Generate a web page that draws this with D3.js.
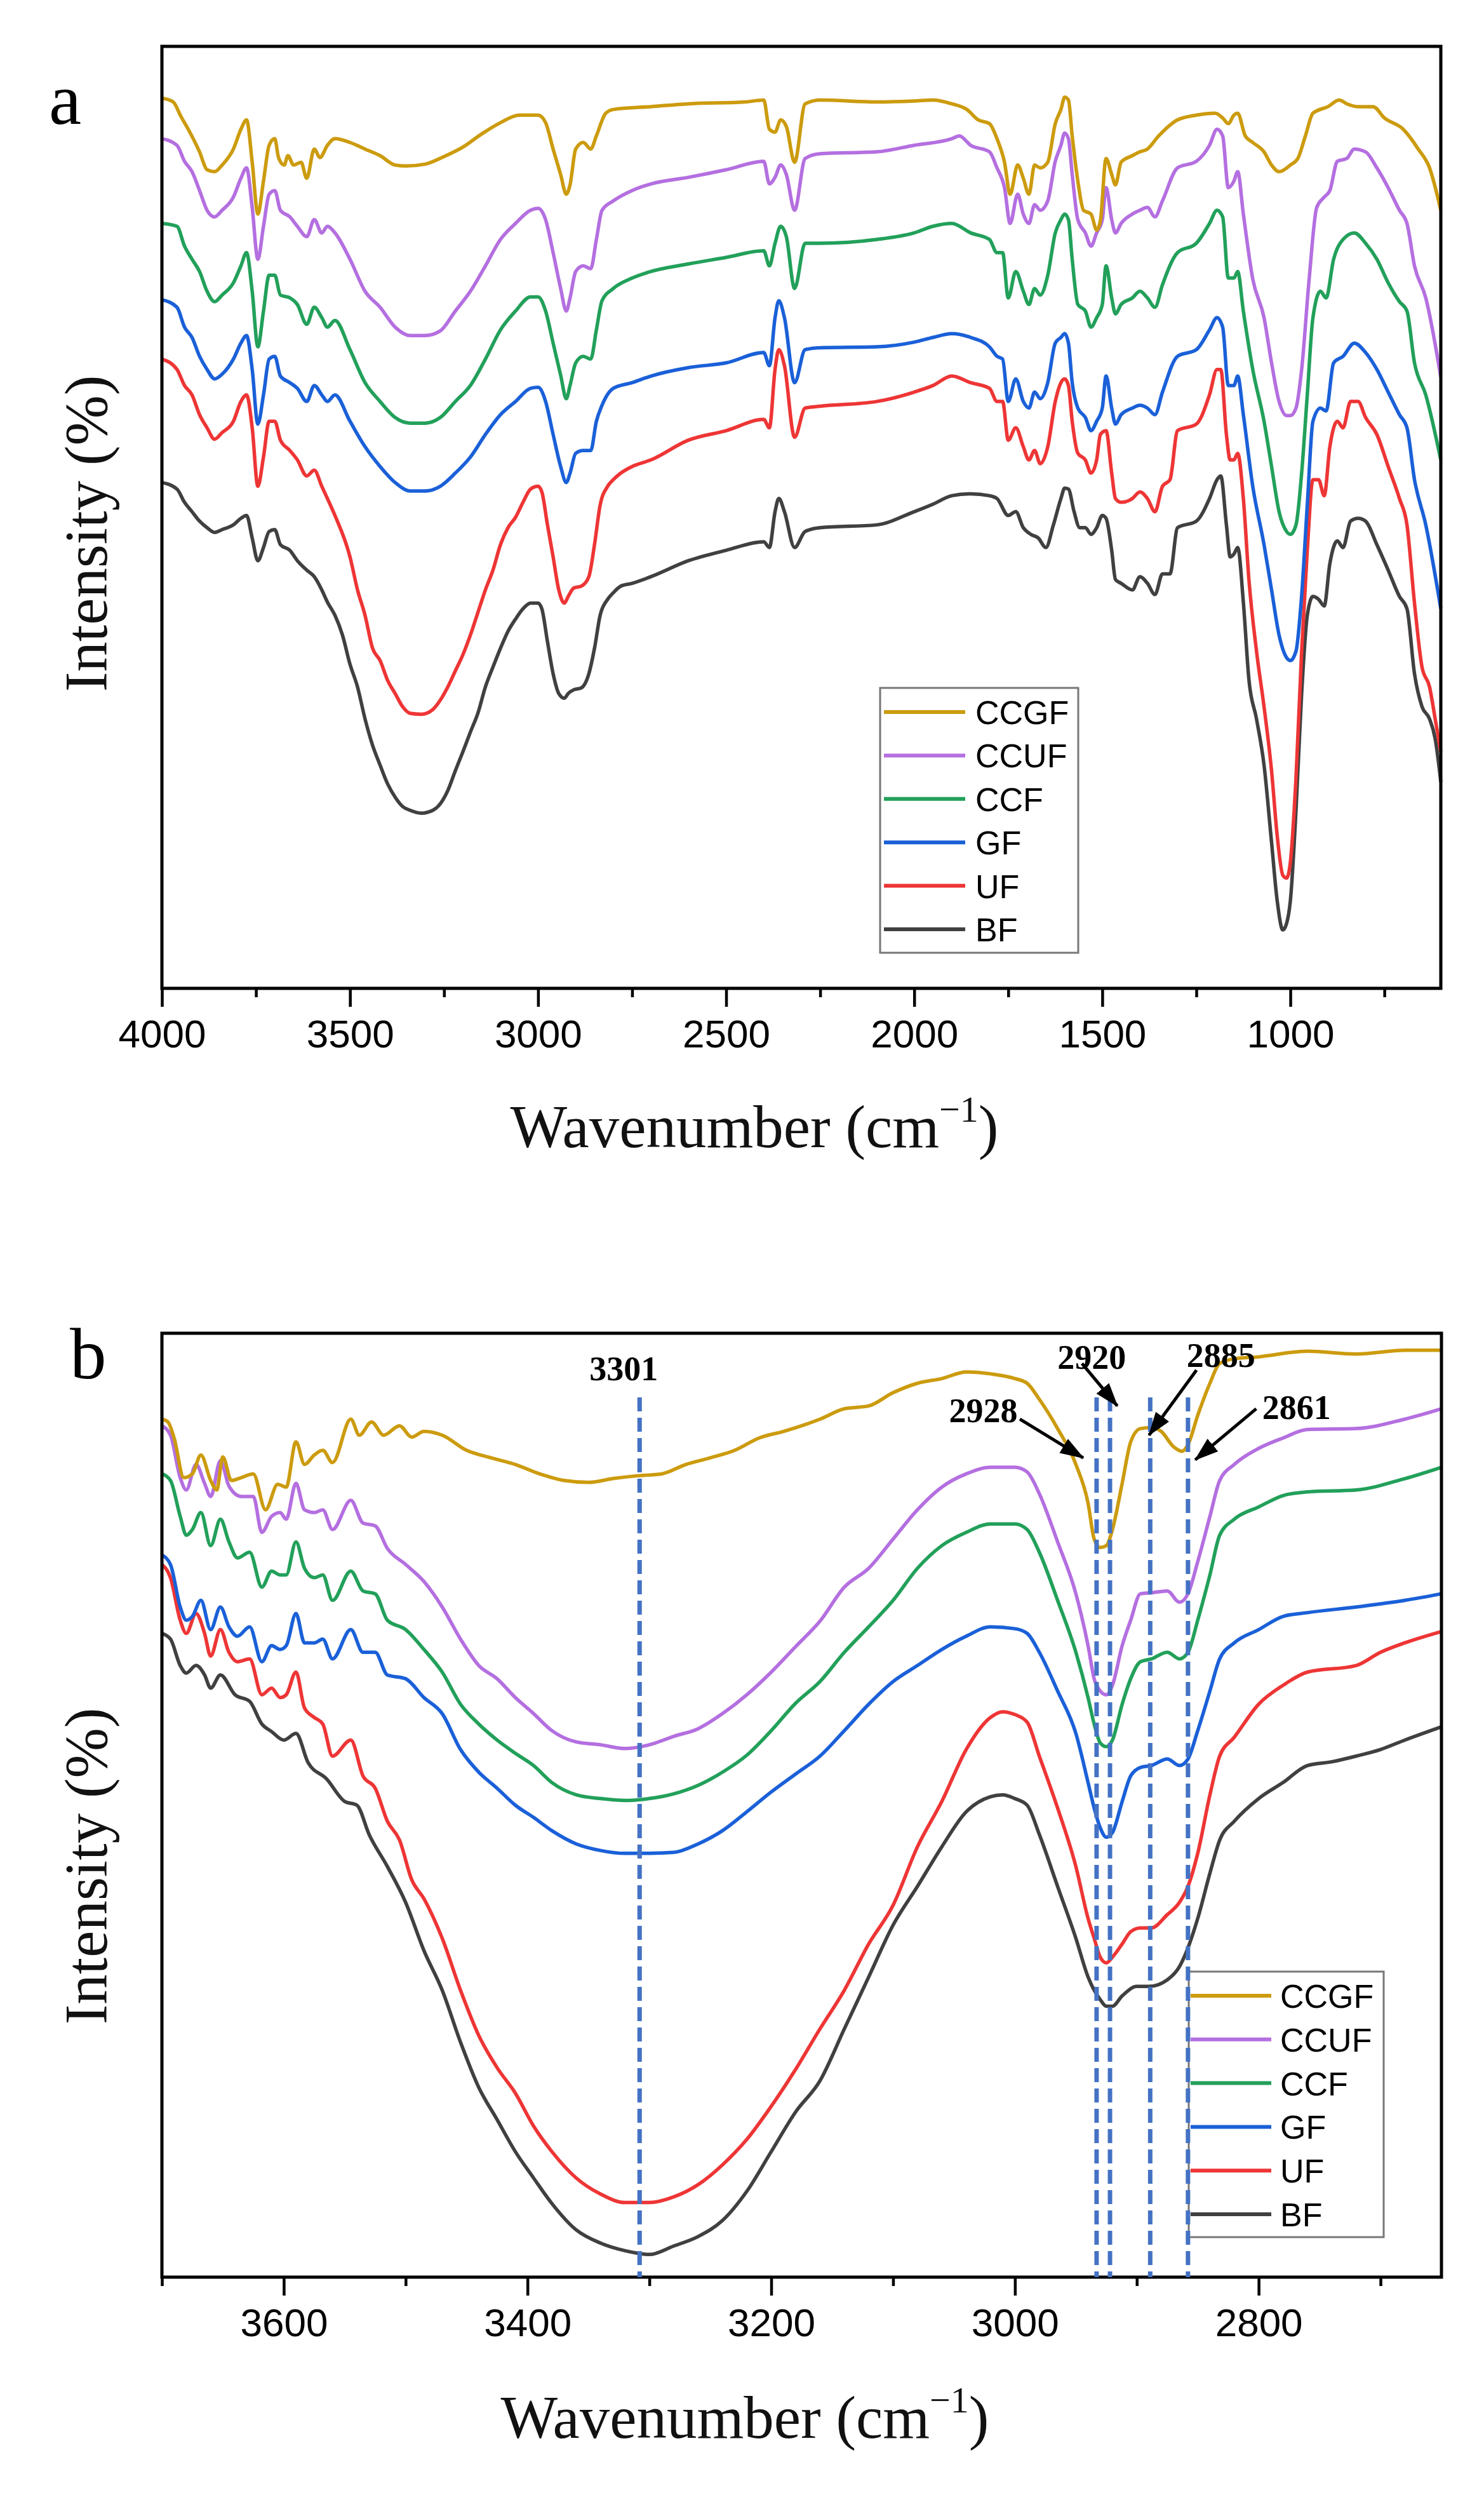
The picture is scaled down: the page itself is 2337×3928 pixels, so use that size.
<!DOCTYPE html>
<html>
<head>
<meta charset="utf-8">
<script src="https://cdn.jsdelivr.net/npm/d3@7"></script>
<style>
  body { margin: 0; background: #fff; }
  svg { display: block; }
</style>
</head>
<body>
<div id="chart"></div>
<script>
// series names and colours (legend order, top to bottom)
var seriesNames = ['CCGF', 'CCUF', 'CCF', 'GF', 'UF', 'BF'];
var seriesColors = ['#CC9B0E', '#B46FE0', '#22A05A', '#1A60D8', '#EE3535', '#404040'];

// panel a: [wavenumber, intensity] (0 = frame bottom, 100 = frame top)
var ccgfA = [[4000,94.5],[3970,94.1],[3950,92.6],[3930,91.2],[3900,88.8],[3880,86.9],[3860,86.7],[3840,87.4],[3810,89.1],[3790,91.2],[3775,92.2],[3760,87.7],[3745,82.2],[3730,85.7],[3715,89.5],[3700,90.2],[3690,88.2],[3675,87.4],[3665,88.4],[3650,87.4],[3630,87.7],[3615,86.0],[3595,89.1],[3580,88.2],[3560,89.5],[3540,90.2],[3500,89.8],[3460,89.1],[3420,88.4],[3380,87.4],[3350,87.3],[3300,87.5],[3250,88.3],[3200,89.3],[3150,90.7],[3100,91.9],[3050,92.7],[3000,92.7],[2980,91.9],[2960,89.1],[2940,86.4],[2925,84.3],[2915,85.3],[2900,89.1],[2880,89.8],[2860,89.1],[2845,90.5],[2820,92.9],[2800,93.3],[2700,93.6],[2600,93.9],[2450,94.1],[2400,94.3],[2385,91.2],[2370,90.9],[2355,92.2],[2340,91.5],[2318,87.7],[2290,93.9],[2250,94.3],[2100,94.1],[2000,94.2],[1950,94.3],[1900,93.9],[1860,93.3],[1830,92.2],[1800,91.8],[1780,90.2],[1760,87.7],[1745,84.3],[1725,87.4],[1710,86.0],[1695,84.3],[1680,87.4],[1665,87.1],[1645,87.7],[1625,91.8],[1610,93.3],[1600,94.6],[1590,94.3],[1580,90.5],[1565,85.7],[1550,82.6],[1530,82.2],[1515,80.5],[1505,81.5],[1490,88.1],[1475,86.4],[1465,85.3],[1450,87.7],[1420,88.4],[1400,88.8],[1380,89.1],[1350,90.5],[1300,92.2],[1250,92.7],[1200,92.9],[1180,92.4],[1165,91.8],[1150,92.7],[1140,92.9],[1120,90.5],[1100,89.8],[1070,88.8],[1050,87.4],[1030,86.7],[1000,87.4],[980,88.1],[960,90.5],[940,92.9],[900,93.6],[870,94.3],[850,93.9],[820,93.6],[780,93.6],[750,92.4],[700,91.2],[660,89.1],[630,87.1],[600,82.6]];
var ccufA = [[4000,90.2],[3960,89.5],[3940,87.8],[3920,86.7],[3900,84.7],[3880,82.6],[3860,81.9],[3840,82.6],[3810,84.0],[3790,86.0],[3775,87.1],[3760,82.9],[3745,77.4],[3730,80.9],[3715,84.3],[3700,84.7],[3685,82.6],[3660,81.9],[3640,80.9],[3615,79.8],[3595,81.6],[3575,80.2],[3560,80.9],[3540,80.2],[3500,77.4],[3460,74.0],[3420,72.3],[3380,70.2],[3340,69.3],[3300,69.3],[3260,69.8],[3220,71.9],[3180,74.0],[3140,76.7],[3100,79.5],[3060,81.2],[3020,82.6],[3000,82.8],[2980,81.6],[2960,78.1],[2940,74.3],[2925,71.9],[2915,73.3],[2900,76.1],[2880,76.7],[2860,76.4],[2845,79.5],[2830,82.6],[2800,83.6],[2750,84.7],[2700,85.4],[2600,86.1],[2500,86.9],[2400,87.8],[2385,85.4],[2370,86.1],[2355,87.4],[2340,86.4],[2318,82.6],[2290,88.1],[2250,88.6],[2100,88.8],[2000,89.5],[1900,90.2],[1880,90.5],[1850,89.5],[1800,88.8],[1780,87.1],[1760,85.0],[1745,81.2],[1725,84.3],[1710,82.2],[1695,81.2],[1680,83.2],[1665,82.6],[1645,83.6],[1625,87.8],[1610,89.5],[1600,90.8],[1590,90.2],[1580,86.4],[1565,81.6],[1545,80.2],[1530,78.8],[1515,80.2],[1500,81.6],[1490,85.0],[1475,81.6],[1465,80.2],[1450,81.2],[1420,82.2],[1400,82.6],[1380,82.9],[1360,81.9],[1340,83.6],[1300,87.1],[1250,87.8],[1215,89.5],[1195,91.2],[1180,90.5],[1165,85.0],[1150,85.7],[1140,86.7],[1125,82.2],[1100,75.3],[1070,71.2],[1050,66.4],[1030,62.3],[1010,60.8],[1000,60.8],[985,61.6],[970,65.7],[950,75.3],[930,82.9],[910,84.0],[895,84.7],[875,87.8],[850,88.1],[830,89.1],[800,88.8],[770,87.1],[740,85.0],[710,82.6],[690,81.2],[670,76.7],[640,73.3],[600,64.9]];
var ccfA = [[4000,81.2],[3960,80.9],[3940,78.8],[3920,77.4],[3900,76.1],[3880,74.0],[3860,72.9],[3840,73.6],[3810,74.9],[3790,76.7],[3775,78.1],[3760,74.0],[3745,68.1],[3730,71.9],[3715,75.7],[3700,75.7],[3685,73.6],[3660,73.3],[3640,72.6],[3615,70.5],[3595,72.3],[3575,71.2],[3560,70.2],[3540,70.9],[3500,67.8],[3460,64.3],[3420,62.3],[3380,60.6],[3340,60.0],[3300,60.0],[3260,60.6],[3220,62.3],[3180,64.0],[3140,66.8],[3100,69.9],[3060,71.9],[3020,73.4],[3000,73.4],[2980,71.9],[2960,68.5],[2940,65.1],[2925,62.6],[2915,64.0],[2900,66.4],[2880,67.1],[2860,66.8],[2845,69.9],[2830,73.0],[2800,74.3],[2750,75.4],[2700,76.1],[2600,76.9],[2500,77.6],[2400,78.3],[2385,76.7],[2370,79.1],[2355,80.9],[2340,79.8],[2318,74.3],[2290,79.1],[2250,79.1],[2100,79.5],[2000,80.2],[1950,80.9],[1900,81.2],[1850,80.2],[1800,79.5],[1780,78.1],[1765,78.1],[1750,73.3],[1730,76.1],[1710,74.0],[1695,72.6],[1680,74.3],[1665,73.6],[1645,75.7],[1625,80.2],[1610,81.6],[1600,82.2],[1590,81.6],[1580,77.4],[1565,72.6],[1545,71.9],[1530,70.2],[1515,71.2],[1500,72.6],[1490,76.7],[1475,73.3],[1465,71.6],[1450,72.6],[1420,73.3],[1400,74.0],[1380,73.3],[1360,72.3],[1340,74.7],[1300,78.1],[1250,79.1],[1215,81.2],[1195,82.6],[1180,81.9],[1165,75.4],[1150,75.4],[1140,76.1],[1125,71.9],[1100,65.7],[1070,60.2],[1050,55.4],[1030,50.6],[1010,48.5],[1000,48.2],[985,49.2],[970,54.7],[955,63.0],[940,71.2],[920,74.0],[905,73.3],[885,77.4],[860,79.5],[830,80.2],[800,79.1],[770,77.4],[740,74.9],[710,72.9],[690,71.9],[670,66.4],[640,63.0],[600,56.1]];
var gfA = [[4000,73.1],[3960,72.3],[3940,70.2],[3920,69.1],[3900,67.1],[3880,65.7],[3860,64.7],[3840,65.2],[3810,66.8],[3790,68.5],[3775,69.3],[3760,65.7],[3745,59.9],[3730,63.0],[3715,66.8],[3700,67.1],[3685,65.0],[3660,64.3],[3640,63.7],[3615,62.3],[3595,64.0],[3575,63.0],[3560,62.3],[3540,63.0],[3500,60.2],[3460,57.5],[3420,55.4],[3380,53.7],[3340,52.8],[3300,52.8],[3260,53.3],[3220,54.7],[3180,56.4],[3140,58.8],[3100,60.9],[3060,62.3],[3020,63.7],[3000,63.8],[2980,62.3],[2960,58.8],[2940,55.4],[2925,53.7],[2915,54.7],[2900,56.8],[2880,57.1],[2860,57.1],[2845,60.2],[2830,61.9],[2800,63.7],[2750,64.3],[2700,65.0],[2600,65.9],[2500,66.4],[2400,67.5],[2385,66.1],[2370,71.2],[2360,73.0],[2345,71.2],[2318,64.3],[2290,67.8],[2250,68.0],[2100,68.1],[2000,68.6],[1950,69.1],[1900,69.5],[1850,69.1],[1800,68.1],[1780,67.1],[1765,66.8],[1750,62.3],[1730,64.7],[1710,62.3],[1695,61.6],[1680,63.3],[1665,62.6],[1645,64.3],[1625,68.5],[1610,69.1],[1600,69.5],[1590,68.5],[1580,64.3],[1565,61.6],[1545,60.6],[1530,59.2],[1515,60.2],[1500,61.6],[1490,65.0],[1475,61.6],[1465,59.9],[1450,60.9],[1420,61.6],[1400,61.9],[1380,61.6],[1360,60.9],[1340,63.3],[1300,67.1],[1250,67.8],[1215,69.9],[1195,71.2],[1180,70.2],[1165,64.0],[1150,64.0],[1140,65.0],[1125,60.9],[1100,53.3],[1070,47.1],[1050,42.3],[1030,37.5],[1010,35.1],[1000,34.8],[985,35.8],[970,41.7],[955,51.3],[940,60.2],[920,61.6],[905,61.3],[885,66.4],[860,67.1],[830,68.5],[800,67.5],[770,65.7],[740,63.3],[710,60.9],[690,59.5],[670,54.0],[640,49.2],[600,40.3]];
var ufA = [[4000,66.8],[3960,65.7],[3940,64.0],[3920,63.0],[3900,60.9],[3880,59.5],[3860,58.3],[3840,59.0],[3810,60.2],[3790,62.3],[3775,63.0],[3760,59.5],[3745,53.3],[3730,56.4],[3715,60.2],[3700,60.2],[3685,58.2],[3660,57.1],[3640,56.1],[3615,54.4],[3595,55.0],[3575,53.3],[3560,52.0],[3540,50.2],[3500,45.8],[3480,42.3],[3460,39.6],[3440,36.1],[3420,34.8],[3400,32.7],[3380,31.3],[3360,29.9],[3340,29.2],[3310,29.1],[3280,29.6],[3260,30.6],[3240,32.0],[3220,33.7],[3200,35.4],[3180,37.5],[3160,39.9],[3140,42.3],[3120,44.4],[3100,47.1],[3080,48.9],[3060,50.0],[3040,51.6],[3020,53.0],[3000,53.3],[2990,52.7],[2975,49.2],[2960,45.8],[2945,42.3],[2930,40.9],[2920,41.6],[2905,42.5],[2885,42.7],[2865,43.7],[2850,47.1],[2835,51.3],[2815,53.3],[2800,54.0],[2780,54.7],[2750,55.4],[2700,56.1],[2600,58.2],[2500,59.2],[2400,60.4],[2385,59.5],[2370,65.7],[2360,67.8],[2345,66.1],[2318,58.5],[2290,61.6],[2250,61.8],[2100,62.3],[2000,63.3],[1950,64.0],[1900,65.0],[1850,64.3],[1800,63.7],[1780,62.3],[1765,62.3],[1750,58.2],[1730,59.5],[1710,57.5],[1695,56.1],[1680,57.1],[1665,55.7],[1645,57.5],[1625,62.3],[1610,64.3],[1600,64.7],[1590,64.0],[1580,60.2],[1565,56.8],[1545,56.1],[1530,54.7],[1515,56.1],[1505,58.8],[1490,59.2],[1475,54.7],[1465,52.0],[1450,51.6],[1420,52.0],[1400,52.7],[1380,52.0],[1360,50.6],[1340,53.3],[1320,54.0],[1300,59.2],[1250,59.9],[1215,63.0],[1195,65.7],[1185,65.7],[1170,58.8],[1160,56.1],[1150,56.1],[1140,56.8],[1125,52.0],[1110,43.3],[1090,35.8],[1070,29.9],[1050,23.1],[1035,16.2],[1020,12.0],[1010,11.7],[1000,13.4],[985,22.4],[970,35.8],[955,46.5],[940,54.0],[925,54.0],[910,52.3],[895,57.5],[875,60.2],[860,59.5],[840,62.3],[820,62.3],[800,60.6],[770,58.8],[740,55.4],[710,52.0],[690,49.2],[670,40.9],[650,34.1],[630,32.0],[615,28.6],[600,25.1]];
var bfA = [[4000,53.7],[3960,53.0],[3940,51.6],[3920,50.6],[3900,49.6],[3880,48.9],[3860,48.4],[3840,48.7],[3810,49.2],[3790,49.9],[3775,50.2],[3760,47.8],[3745,45.4],[3730,46.8],[3715,48.5],[3700,48.7],[3685,47.1],[3660,46.5],[3640,45.4],[3615,44.4],[3595,43.7],[3575,42.3],[3560,41.0],[3540,39.6],[3520,37.5],[3500,34.4],[3480,32.0],[3460,28.6],[3440,25.8],[3420,23.7],[3400,21.7],[3380,20.3],[3360,19.3],[3340,18.9],[3310,18.6],[3280,18.9],[3260,19.6],[3240,21.0],[3220,23.1],[3200,25.1],[3180,27.2],[3160,29.2],[3140,32.0],[3120,34.1],[3100,36.1],[3080,37.9],[3060,39.2],[3040,40.3],[3020,40.9],[3000,40.9],[2990,40.3],[2975,36.8],[2960,33.4],[2945,31.3],[2930,30.8],[2920,31.3],[2905,31.7],[2885,31.9],[2865,33.4],[2850,36.1],[2835,39.6],[2815,41.3],[2800,42.0],[2780,42.7],[2750,43.0],[2700,43.7],[2600,45.4],[2500,46.5],[2400,47.4],[2385,46.8],[2370,50.6],[2360,52.0],[2345,50.6],[2318,46.8],[2290,48.5],[2250,48.9],[2100,49.2],[2000,50.6],[1950,51.4],[1900,52.3],[1850,52.5],[1800,52.3],[1780,52.0],[1750,50.2],[1730,50.6],[1710,48.9],[1690,48.2],[1670,47.8],[1650,46.8],[1630,49.2],[1610,52.0],[1600,53.1],[1590,53.0],[1575,50.6],[1560,48.9],[1545,48.9],[1530,48.2],[1515,48.9],[1500,50.2],[1490,49.9],[1475,46.5],[1465,43.4],[1450,43.0],[1420,42.3],[1400,43.7],[1380,43.0],[1360,41.8],[1340,44.0],[1320,44.0],[1300,48.9],[1250,49.6],[1215,52.0],[1195,54.0],[1185,54.4],[1170,49.2],[1160,45.8],[1150,46.1],[1140,46.8],[1125,41.0],[1110,32.7],[1090,28.6],[1070,23.7],[1050,15.5],[1035,9.3],[1020,6.2],[1010,6.9],[1000,9.3],[985,18.9],[970,31.3],[955,39.6],[940,41.6],[925,41.3],[910,40.6],[895,45.1],[875,47.5],[860,46.8],[840,49.6],[820,49.9],[800,49.6],[770,47.1],[740,44.4],[710,41.6],[690,40.3],[670,33.4],[650,29.9],[630,28.6],[615,26.5],[600,21.9]];

// panel b: C-H / O-H region
var ccgfB = [[3700,90.9],[3695,90.6],[3690,88.9],[3682,84.7],[3675,85.1],[3668,87.1],[3660,84.4],[3655,83.4],[3650,86.9],[3643,84.4],[3635,84.7],[3625,85.1],[3615,81.3],[3605,84.0],[3598,83.7],[3590,88.5],[3583,86.1],[3575,87.1],[3568,87.6],[3560,86.3],[3545,90.9],[3538,89.2],[3528,90.6],[3518,89.2],[3505,90.2],[3495,89.0],[3485,89.6],[3470,89.2],[3450,87.6],[3430,86.8],[3410,86.1],[3390,85.1],[3370,84.4],[3350,84.2],[3330,84.6],[3310,84.9],[3290,85.1],[3270,86.1],[3250,86.8],[3230,87.6],[3210,88.9],[3190,89.6],[3175,90.2],[3160,90.9],[3140,92.0],[3120,92.3],[3100,93.7],[3080,94.7],[3060,95.2],[3040,95.9],[3020,95.7],[3000,95.2],[2990,94.7],[2980,93.0],[2965,89.9],[2950,86.1],[2940,82.0],[2935,78.2],[2930,77.3],[2925,77.5],[2920,79.2],[2912,84.1],[2905,88.5],[2897,89.9],[2888,90.0],[2880,89.6],[2870,88.0],[2863,87.5],[2858,88.2],[2850,91.3],[2840,94.7],[2832,96.8],[2820,97.3],[2800,97.5],[2760,98.1],[2720,97.8],[2680,98.2],[2650,98.2]];
var ccufB = [[3700,90.2],[3693,89.2],[3685,84.7],[3680,83.4],[3672,86.1],[3665,84.1],[3660,82.7],[3652,86.5],[3645,83.8],[3635,82.7],[3625,82.7],[3618,78.9],[3610,80.6],[3603,81.0],[3598,80.3],[3590,84.1],[3583,81.3],[3575,81.0],[3568,81.3],[3560,79.2],[3545,82.3],[3535,79.9],[3525,79.6],[3515,77.2],[3500,75.5],[3485,73.7],[3470,71.0],[3455,67.6],[3440,64.8],[3425,63.4],[3410,61.4],[3395,59.7],[3380,57.9],[3360,56.7],[3340,56.4],[3320,56.0],[3300,56.4],[3280,57.3],[3260,58.1],[3240,59.7],[3220,61.7],[3200,64.1],[3180,66.8],[3160,69.5],[3140,73.1],[3120,75.1],[3100,78.2],[3080,81.3],[3060,83.7],[3040,85.1],[3020,85.8],[3000,85.8],[2990,85.3],[2980,83.0],[2965,77.9],[2950,72.4],[2940,66.9],[2935,63.4],[2930,62.1],[2925,61.7],[2920,62.7],[2912,66.9],[2905,69.6],[2897,72.4],[2888,72.5],[2875,72.7],[2865,71.5],[2858,72.4],[2850,75.8],[2840,80.6],[2832,84.4],[2820,86.1],[2800,87.8],[2780,88.9],[2760,89.8],[2720,89.9],[2680,90.9],[2650,92.0]];
var ccfB = [[3700,85.1],[3693,84.4],[3685,80.6],[3680,78.6],[3675,79.2],[3668,81.0],[3660,77.5],[3652,80.3],[3645,77.9],[3638,76.2],[3628,76.8],[3618,73.1],[3610,74.8],[3603,74.4],[3598,74.4],[3590,77.9],[3583,75.1],[3575,74.1],[3568,74.4],[3560,71.7],[3545,74.8],[3535,72.7],[3525,72.4],[3515,69.6],[3500,68.6],[3485,66.5],[3470,64.1],[3455,60.7],[3440,58.6],[3425,56.9],[3410,55.5],[3395,54.2],[3380,52.4],[3360,51.1],[3340,50.7],[3320,50.5],[3300,50.7],[3280,51.2],[3260,52.1],[3240,53.5],[3220,55.3],[3200,57.9],[3180,60.8],[3160,63.1],[3140,66.2],[3120,68.9],[3100,71.7],[3080,75.1],[3060,77.5],[3040,78.9],[3020,79.8],[3000,79.8],[2990,79.2],[2980,76.8],[2965,71.7],[2950,66.2],[2940,61.4],[2935,58.6],[2930,56.6],[2925,56.2],[2920,56.9],[2912,60.7],[2905,63.4],[2897,65.2],[2888,65.5],[2875,66.2],[2865,65.5],[2858,66.2],[2850,69.6],[2840,74.4],[2832,78.6],[2820,80.3],[2800,81.6],[2780,82.8],[2760,83.2],[2720,83.4],[2680,84.6],[2650,85.8]];
var gfB = [[3700,76.5],[3693,75.5],[3685,71.0],[3680,69.6],[3675,70.0],[3668,71.7],[3660,68.6],[3652,71.0],[3645,68.9],[3638,67.9],[3628,68.9],[3618,65.2],[3610,66.9],[3603,66.5],[3598,66.9],[3590,70.3],[3583,67.2],[3575,67.2],[3568,67.6],[3560,65.5],[3545,68.6],[3535,66.2],[3525,66.2],[3515,63.8],[3500,63.4],[3485,61.4],[3470,59.7],[3455,55.9],[3440,53.5],[3425,51.8],[3410,50.0],[3395,48.7],[3380,47.3],[3360,45.9],[3340,45.2],[3320,44.9],[3300,44.9],[3280,45.0],[3260,45.9],[3240,47.3],[3220,49.3],[3200,51.4],[3180,53.3],[3160,55.2],[3140,57.9],[3120,60.7],[3100,63.1],[3080,64.8],[3060,66.5],[3040,67.9],[3020,68.9],[3000,68.7],[2990,68.2],[2980,66.2],[2965,62.1],[2950,57.6],[2940,52.4],[2935,49.7],[2930,47.6],[2925,46.6],[2920,47.1],[2912,50.4],[2905,53.1],[2897,54.0],[2888,54.2],[2875,54.9],[2865,54.2],[2858,54.9],[2850,57.9],[2840,62.1],[2832,65.5],[2820,67.2],[2800,68.6],[2780,70.0],[2760,70.4],[2720,71.0],[2680,71.7],[2650,72.4]];
var ufB = [[3700,75.5],[3693,74.1],[3685,69.6],[3680,68.2],[3672,70.3],[3665,68.2],[3660,65.8],[3652,68.6],[3645,66.2],[3638,65.2],[3628,65.5],[3618,61.7],[3610,62.4],[3603,61.4],[3598,61.7],[3590,64.1],[3583,60.3],[3575,59.3],[3568,58.6],[3560,55.2],[3545,56.9],[3535,53.1],[3525,51.8],[3515,48.3],[3505,46.3],[3495,42.1],[3485,40.1],[3470,35.9],[3455,30.4],[3440,25.6],[3425,22.2],[3410,19.5],[3395,16.0],[3380,13.3],[3360,10.5],[3340,8.8],[3320,7.9],[3300,7.9],[3280,8.5],[3260,9.8],[3240,11.9],[3220,14.6],[3200,18.1],[3180,22.0],[3160,26.3],[3140,30.4],[3120,35.3],[3100,39.4],[3080,45.6],[3060,50.4],[3040,55.9],[3020,59.3],[3010,59.9],[3000,59.6],[2990,58.8],[2980,55.2],[2965,49.7],[2950,43.5],[2940,38.0],[2935,35.9],[2930,33.9],[2925,33.3],[2920,33.9],[2912,35.3],[2905,36.6],[2897,37.0],[2888,37.0],[2875,38.4],[2865,39.7],[2858,41.4],[2850,44.9],[2840,51.1],[2832,55.2],[2820,57.2],[2800,60.7],[2780,62.7],[2760,64.1],[2720,64.8],[2700,66.2],[2680,67.2],[2650,68.4]];
var bfB = [[3700,68.2],[3693,67.6],[3685,64.8],[3680,64.0],[3672,64.8],[3665,63.8],[3660,62.4],[3652,63.8],[3640,61.7],[3628,61.0],[3618,58.6],[3610,57.8],[3600,56.9],[3590,57.6],[3580,54.5],[3565,52.8],[3550,50.4],[3540,50.0],[3530,46.9],[3515,43.5],[3500,39.7],[3485,34.6],[3470,30.4],[3455,24.9],[3440,20.1],[3425,16.7],[3410,13.3],[3395,10.5],[3380,7.8],[3360,5.0],[3340,3.6],[3320,2.8],[3300,2.4],[3280,3.3],[3260,4.3],[3240,6.0],[3220,9.1],[3200,13.3],[3180,17.5],[3160,20.8],[3140,26.3],[3120,31.8],[3100,37.3],[3080,41.4],[3060,45.6],[3040,49.3],[3020,50.9],[3010,51.1],[3000,50.7],[2990,50.0],[2980,46.9],[2965,41.4],[2950,35.9],[2940,31.8],[2935,30.4],[2930,29.4],[2925,28.7],[2920,28.7],[2912,29.8],[2900,30.8],[2890,30.8],[2875,31.5],[2865,32.9],[2858,34.9],[2850,38.0],[2840,42.8],[2832,46.3],[2820,48.3],[2800,50.7],[2780,52.4],[2760,54.2],[2740,54.6],[2720,55.2],[2700,55.9],[2680,56.9],[2650,58.3]];

// axis ticks
var majorTicksA = [4000, 3500, 3000, 2500, 2000, 1500, 1000];
var minorTicksA = [3750, 3250, 2750, 2250, 1750, 1250, 750];
var majorTicksB = [3600, 3400, 3200, 3000, 2800];
var minorTicksB = [3700, 3500, 3300, 3100, 2900, 2700];

// marked bands in panel b (line position as drawn, label as printed)
var markerWn = [3308, 2933, 2922, 2889, 2858];
var labelText = ['3301', '2920', '2885', '2928', '2861'];
var labelWn = [3321, 2937, 2831, 3026, 2769];
var labelVal = [95.0, 96.2, 96.4, 90.6, 90.9];
var arrowFrom = [[2996, 90.9], [2945, 96.8], [2851, 96.1], [2802, 92.0]];
var arrowTo = [[2944, 86.8], [2916, 92.3], [2890, 89.2], [2852, 86.6]];

var seriesA = [ccgfA, ccufA, ccfA, gfA, ufA, bfA];
var seriesB = [ccgfB, ccufB, ccfB, gfB, ufB, bfB];

var W = 2337, H = 3928;
var sans = 'Liberation Sans, Arial, sans-serif';
var serif = 'Liberation Serif, Times New Roman, serif';

var svg = d3.select('#chart')
  .append('svg')
  .attr('width', W)
  .attr('height', H)
  .attr('viewBox', '0 0 ' + W + ' ' + H);

svg.append('rect').attr('width', W).attr('height', H).attr('fill', '#fff');

svg.append('defs').append('marker')
  .attr('id', 'arrowhead')
  .attr('markerUnits', 'userSpaceOnUse')
  .attr('markerWidth', 40)
  .attr('markerHeight', 30)
  .attr('refX', 36)
  .attr('refY', 15)
  .attr('orient', 'auto')
  .append('path')
  .attr('d', 'M0,2 L38,15 L0,28 Z')
  .attr('fill', '#000');

function drawPanel(opt) {
  var x = d3.scaleLinear().domain(opt.domain).range([opt.x0, opt.x1]);
  var y = d3.scaleLinear().domain([0, 100]).range([opt.y1, opt.y0]);
  var g = svg.append('g');

  var line = d3.line()
    .x(function(d) { return x(d[0]); })
    .y(function(d) { return y(d[1]); })
    .curve(d3.curveMonotoneX);

  // BF first so CCGF ends up on top
  for (var i = opt.series.length - 1; i >= 0; i--) {
    g.append('path')
      .datum(opt.series[i])
      .attr('d', line)
      .attr('fill', 'none')
      .attr('stroke', seriesColors[i])
      .attr('stroke-width', 5.5)
      .attr('stroke-linejoin', 'round');
  }

  // frame
  g.append('rect')
    .attr('x', opt.x0).attr('y', opt.y0)
    .attr('width', opt.x1 - opt.x0).attr('height', opt.y1 - opt.y0)
    .attr('fill', 'none').attr('stroke', '#000').attr('stroke-width', 5);

  var major = g.append('g')
    .attr('transform', 'translate(0,' + opt.y1 + ')')
    .call(d3.axisBottom(x).tickValues(opt.major).tickSize(29).tickPadding(20).tickFormat(d3.format('d')));
  major.select('.domain').remove();
  major.selectAll('line').attr('stroke-width', 4.5);
  major.selectAll('text').attr('font-family', sans).attr('font-size', 62).attr('fill', '#000');

  var minor = g.append('g')
    .attr('transform', 'translate(0,' + opt.y1 + ')')
    .call(d3.axisBottom(x).tickValues(opt.minor).tickSize(14).tickFormat(''));
  minor.select('.domain').remove();
  minor.selectAll('line').attr('stroke-width', 4.5);

  // axis titles
  var xt = g.append('text')
    .attr('x', opt.titleX).attr('y', opt.titleY)
    .attr('text-anchor', 'middle')
    .attr('font-family', serif).attr('font-size', 95).attr('fill', '#111');
  xt.append('tspan').text('Wavenumber (cm');
  xt.append('tspan').attr('font-size', 58).attr('dy', -40).text('\u22121');
  xt.append('tspan').attr('dy', 40).text(')');

  g.append('text')
    .attr('transform', 'translate(168,' + opt.ylabelY + ') rotate(-90)')
    .attr('text-anchor', 'middle')
    .attr('font-family', serif).attr('font-size', 95).attr('fill', '#111')
    .text('Intensity (%)');

  g.append('text')
    .attr('x', opt.letterX).attr('y', opt.letterY)
    .attr('font-family', serif).attr('font-size', 115).attr('fill', '#000')
    .text(opt.letter);

  // legend
  var lg = opt.legend;
  g.append('rect')
    .attr('x', lg.x0).attr('y', lg.y0)
    .attr('width', lg.x1 - lg.x0).attr('height', lg.y1 - lg.y0)
    .attr('fill', '#fff').attr('stroke', '#777').attr('stroke-width', 3);
  var rows = g.selectAll('g.leg')
    .data(seriesNames)
    .enter()
    .append('g')
    .attr('class', 'leg')
    .attr('transform', function(d, i) { return 'translate(0,' + (lg.row0 + i * lg.step) + ')'; });
  rows.append('line')
    .attr('x1', lg.lx0).attr('x2', lg.lx1)
    .attr('stroke', function(d, i) { return seriesColors[i]; })
    .attr('stroke-width', 6);
  rows.append('text')
    .attr('x', lg.tx).attr('y', 19)
    .attr('font-family', sans).attr('font-size', 52).attr('fill', '#000')
    .text(function(d) { return d; });

  return { g: g, x: x, y: y };
}

var pa = drawPanel({
  domain: [4000, 600], x0: 255, x1: 2269, y0: 73, y1: 1556,
  series: seriesA, major: majorTicksA, minor: minorTicksA,
  titleX: 1188, titleY: 1806, ylabelY: 840,
  letter: 'a', letterX: 77, letterY: 195,
  legend: { x0: 1386, x1: 1698, y0: 1083, y1: 1500, row0: 1121, step: 68.4, lx0: 1392, lx1: 1520, tx: 1536 }
});

var pb = drawPanel({
  domain: [3700, 2650], x0: 255, x1: 2270, y0: 2099, y1: 3585,
  series: seriesB, major: majorTicksB, minor: minorTicksB,
  titleX: 1173, titleY: 3838, ylabelY: 2938,
  letter: 'b', letterX: 110, letterY: 2170,
  legend: { x0: 1872, x1: 2179, y0: 3104, y1: 3522, row0: 3142, step: 68.8, lx0: 1875, lx1: 2002, tx: 2016 }
});

// dashed band markers
pb.g.selectAll('line.mark')
  .data(markerWn)
  .enter()
  .append('line')
  .attr('class', 'mark')
  .attr('x1', function(d) { return pb.x(d); })
  .attr('x2', function(d) { return pb.x(d); })
  .attr('y1', pb.y(93.2))
  .attr('y2', pb.y(0))
  .attr('stroke', '#4472C4')
  .attr('stroke-width', 7)
  .attr('stroke-dasharray', '22,10');

pb.g.selectAll('text.lab')
  .data(labelText)
  .enter()
  .append('text')
  .attr('class', 'lab')
  .attr('x', function(d, i) { return pb.x(labelWn[i]); })
  .attr('y', function(d, i) { return pb.y(labelVal[i]); })
  .attr('text-anchor', 'middle')
  .attr('font-family', serif).attr('font-weight', 'bold').attr('font-size', 54)
  .attr('fill', '#000')
  .text(function(d) { return d; });

pb.g.selectAll('line.arrow')
  .data(arrowFrom)
  .enter()
  .append('line')
  .attr('class', 'arrow')
  .attr('x1', function(d) { return pb.x(d[0]); })
  .attr('y1', function(d) { return pb.y(d[1]); })
  .attr('x2', function(d, i) { return pb.x(arrowTo[i][0]); })
  .attr('y2', function(d, i) { return pb.y(arrowTo[i][1]); })
  .attr('stroke', '#000')
  .attr('stroke-width', 5)
  .attr('marker-end', 'url(#arrowhead)');
</script>
</body>
</html>
